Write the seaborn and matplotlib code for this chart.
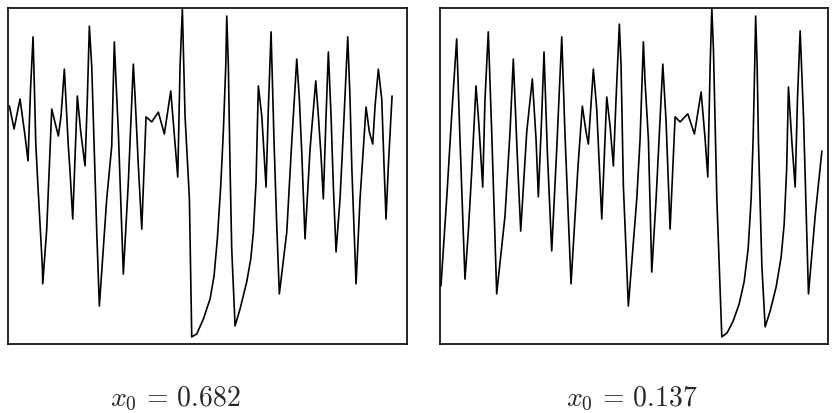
import matplotlib
matplotlib.use("Agg")
import matplotlib.pyplot as plt
import seaborn as sns
import pandas as pd

# values (t = iteration time, x = state in [0, 1])
t_left = [0.1, 1.31, 2.87, 4.18, 4.96, 5.61, 6.27, 6.53, 6.97, 7.49, 8.69, 8.80, 9.84, 11.15,
          12.87, 13.58, 14.44, 15.48, 15.93, 16.63, 17.83, 18.72, 19.84, 20.44, 20.97, 21.59,
          22.90, 23.58, 25.51, 26.81, 27.49, 27.94, 28.54, 29.84, 31.15, 32.45, 32.90, 33.76,
          34.65, 35.77, 37.26, 38.98, 40.55, 42.22, 44.05, 44.65, 45.25, 45.95, 47.09, 47.70,
          49.01, 50.73, 52.48, 53.52, 54.39, 55.27, 55.95, 56.58, 56.84, 57.26, 57.70, 58.14,
          59.01, 60.31, 62.06, 63.11, 63.79, 64.49, 65.09, 65.98, 66.40, 67.10, 67.70, 68.41,
          69.19, 69.90, 70.57, 72.51, 73.81, 75.12, 75.80, 76.42, 77.28, 78.59, 80.08, 80.76,
          81.46, 82.06, 82.77, 83.37, 84.07, 84.67, 85.38, 86.42, 87.28, 88.43, 89.03, 89.48,
          90.60, 91.64, 93.21, 94.07, 94.96, 95.56, 96.42, 97.31, 97.91, 98.43, 99.03, 100.0]
x_left = [0.708, 0.640, 0.729, 0.619, 0.545, 0.759, 0.914, 0.804, 0.601, 0.482, 0.232, 0.179,
          0.342, 0.699, 0.619, 0.679, 0.818, 0.589, 0.512, 0.372, 0.738, 0.631, 0.530, 0.729,
          0.946, 0.827, 0.333, 0.113, 0.432, 0.589, 0.899, 0.780, 0.631, 0.208, 0.482, 0.833,
          0.738, 0.530, 0.342, 0.676, 0.661, 0.690, 0.625, 0.753, 0.497, 0.827, 0.997, 0.679,
          0.432, 0.021, 0.030, 0.074, 0.134, 0.202, 0.313, 0.470, 0.631, 0.827, 0.976, 0.827,
          0.530, 0.283, 0.054, 0.104, 0.185, 0.253, 0.333, 0.482, 0.768, 0.679, 0.601, 0.467,
          0.699, 0.929, 0.601, 0.351, 0.149, 0.333, 0.601, 0.848, 0.729, 0.571, 0.313, 0.580,
          0.783, 0.679, 0.560, 0.432, 0.679, 0.869, 0.679, 0.470, 0.274, 0.432, 0.631, 0.914,
          0.729, 0.530, 0.179, 0.432, 0.705, 0.631, 0.595, 0.708, 0.818, 0.729, 0.530, 0.372,
          0.530, 0.738]

t_right = [0.26, 1.75, 3.05, 4.36, 5.22, 6.08, 6.53, 7.39, 8.28, 9.40, 10.00, 10.44, 11.15,
           11.75, 12.61, 13.50, 14.18, 14.80, 16.97, 18.28, 19.14, 20.18, 21.07, 22.64, 24.10,
           25.07, 25.67, 26.55, 27.15, 28.02, 29.16, 30.47, 31.78, 32.64, 34.20, 36.03, 37.15,
           38.12, 38.72, 40.03, 40.91, 42.22, 43.52, 44.39, 45.25, 45.95, 46.81, 47.26, 47.86,
           49.16, 51.36, 52.22, 53.08, 53.52, 54.39, 55.27, 56.40, 58.15, 59.01, 60.05, 61.36,
           62.66, 64.67, 66.40, 68.15, 69.19, 69.89, 70.50, 70.94, 71.36, 72.25, 73.55, 74.93,
           76.50, 78.07, 79.37, 80.42, 81.20, 81.72, 82.11, 82.38, 82.77, 83.11, 84.00, 84.86,
           86.16, 87.73, 89.03, 89.82, 90.47, 90.94, 91.83, 92.69, 93.29, 93.99, 94.86, 96.16,
           97.91, 99.66]
x_right = [0.173, 0.432, 0.679, 0.908, 0.610, 0.333, 0.193, 0.333, 0.512, 0.768, 0.679, 0.601,
           0.467, 0.729, 0.929, 0.631, 0.381, 0.149, 0.381, 0.631, 0.848, 0.560, 0.336, 0.631,
           0.789, 0.610, 0.438, 0.679, 0.869, 0.571, 0.277, 0.580, 0.914, 0.619, 0.179, 0.530,
           0.708, 0.631, 0.595, 0.818, 0.699, 0.372, 0.735, 0.649, 0.530, 0.729, 0.952, 0.827,
           0.470, 0.113, 0.432, 0.610, 0.899, 0.780, 0.610, 0.214, 0.432, 0.833, 0.661, 0.342,
           0.676, 0.661, 0.685, 0.625, 0.750, 0.610, 0.497, 0.827, 1.000, 0.878, 0.432, 0.021,
           0.033, 0.068, 0.119, 0.185, 0.283, 0.432, 0.610, 0.818, 0.976, 0.827, 0.601, 0.232,
           0.051, 0.098, 0.170, 0.259, 0.357, 0.521, 0.765, 0.601, 0.467, 0.729, 0.932, 0.679,
           0.149, 0.381, 0.574]

labels = [r"$x_0\,=\,0.682$", r"$x_0\,=\,0.137$"]

sns.set_style("white")
plt.rcParams["mathtext.fontset"] = "cm"

fig = plt.figure(figsize=(8.34, 4.14), dpi=100)
ax1 = fig.add_axes([0.009, 0.1667, 0.479, 0.8116])
ax2 = fig.add_axes([0.528, 0.1667, 0.465, 0.8116])

panels = [(ax1, t_left, x_left, (-0.4, 103.9)), (ax2, t_right, x_right, (0.1, 101.3))]
for ax, t, x, xl in panels:
    df = pd.DataFrame({"t": t, "x": x})
    sns.lineplot(data=df, x="t", y="x", ax=ax, color="black", linewidth=1.2,
                 sort=False, estimator=None)
    ax.set_xlim(*xl)
    ax.set_ylim(0, 1)
    ax.set_xticks([])
    ax.set_yticks([])
    ax.set_xlabel("")
    ax.set_ylabel("")
    for s in ax.spines.values():
        s.set_visible(True)
        s.set_color("black")
        s.set_linewidth(1.2)

fig.text(0.210, 0.019, labels[0], ha="center", va="baseline", fontsize=20)
fig.text(0.758, 0.019, labels[1], ha="center", va="baseline", fontsize=20)

fig.savefig("out.png", dpi=100)
